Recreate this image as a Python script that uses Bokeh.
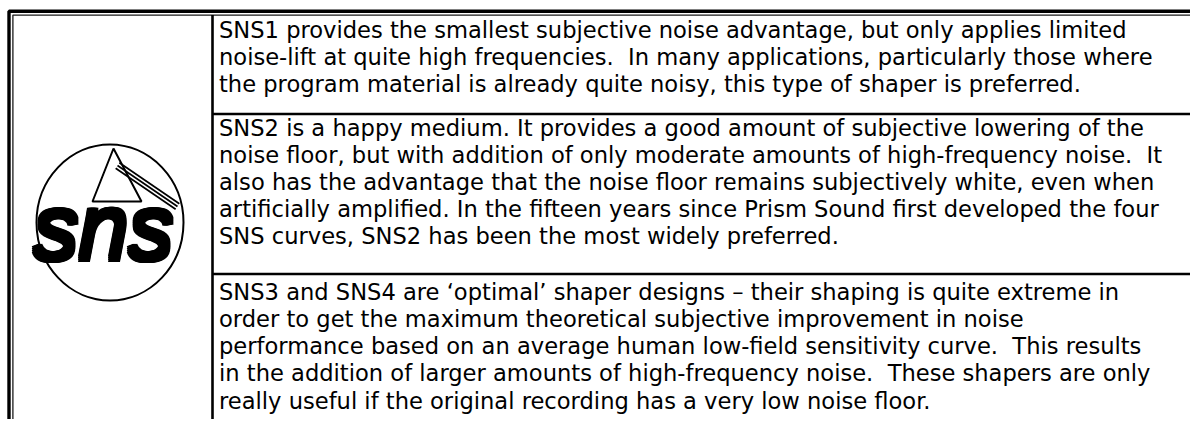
import math
from bokeh.plotting import figure
from bokeh.models import Range1d
from bokeh.core.properties import value
from bokeh.embed import file_html
from bokeh.resources import INLINE

# ---- content ----
NB = " \u00a0"  # double space kept visible
row1_lines = [
    "SNS1 provides the smallest subjective noise advantage, but only applies limited",
    "noise-lift at quite high frequencies." + NB + "In many applications, particularly those where",
    "the program material is already quite noisy, this type of shaper is preferred.",
]
row2_lines = [
    "SNS2 is a happy medium. It provides a good amount of subjective lowering of the",
    "noise floor, but with addition of only moderate amounts of high-frequency noise." + NB + "It",
    "also has the advantage that the noise floor remains subjectively white, even when",
    "artificially amplified. In the fifteen years since Prism Sound first developed the four",
    "SNS curves, SNS2 has been the most widely preferred.",
]
row3_lines = [
    "SNS3 and SNS4 are \u2018optimal\u2019 shaper designs \u2013 their shaping is quite extreme in",
    "order to get the maximum theoretical subjective improvement in noise",
    "performance based on an average human low-field sensitivity curve." + NB + "This results",
    "in the addition of larger amounts of high-frequency noise." + NB + "These shapers are only",
    "really useful if the original recording has a very low noise floor.",
]
logo_text = "sns"

W, H = 1190, 419
p = figure(width=W, height=H, output_backend="svg", toolbar_location=None,
           x_range=Range1d(0, W), y_range=Range1d(H, 0), min_border=0)
p.axis.visible = False
p.grid.visible = False
p.outline_line_color = None
p.background_fill_color = "white"
p.border_fill_color = "white"

# empirical text baseline correction (fraction of font size)
def ty(size):
    return -0.35 * size

# outer double border
p.line([8.5, 8.5, W], [H, 10.8, 10.8], line_color="black", line_width=3.4)
p.line([12.4, 12.4, W], [H, 14.6, 14.6], line_color="#1a1a1a", line_width=1.3)

# cell dividers
p.line([212, 212], [14.6, H], line_color="black", line_width=2.6)
p.line([212, W], [113.5, 113.5], line_color="black", line_width=2.6)
p.line([212, W], [273.5, 273.5], line_color="black", line_width=2.6)

# text
FONT = "DejaVu Sans"
FSZ = 22.6
tx = 218.5
rows = [(row1_lines, 37.2), (row2_lines, 135.2), (row3_lines, 299.6)]
for lines, b0 in rows:
    ys = [b0 - 8 + 27.1 * i for i in range(len(lines))]
    p.text(x=[tx] * len(lines), y=ys, text=lines, text_font=value(FONT),
           text_font_size=f"{FSZ}px", text_color="black", text_baseline="alphabetic",
           text_align="left")

# logo
p.ellipse(x=[109.5], y=[222], width=147, height=156, fill_color=None,
          line_color="black", line_width=2)
p.patch([113, 92, 141], [148, 201, 201], fill_color=None, line_color="black",
        line_width=2)
dx, dy = 60, 41
L = math.hypot(dx, dy)
nx, ny = dy / L, -dx / L
for o in (-3.3, 0, 3.3):
    x0, y0 = 117 + nx * o, 165 + ny * o
    p.line([x0, x0 + dx], [y0, y0 + dy], line_color="black", line_width=1.7)
LF = 90
offs = [(a, b) for a in (0, 1, 2, 3, 4) for b in (0, -2, -4, -6)]
p.text(x=[101 + a for a, b in offs], y=[262 + ty(LF) + b for a, b in offs],
       text=[logo_text] * len(offs), text_font=value("Liberation Sans"),
       text_font_style="italic", text_font_size=f"{LF}px", text_color="black",
       text_baseline="alphabetic", text_align="center")

open("out.html", "w").write(file_html(p, INLINE))
